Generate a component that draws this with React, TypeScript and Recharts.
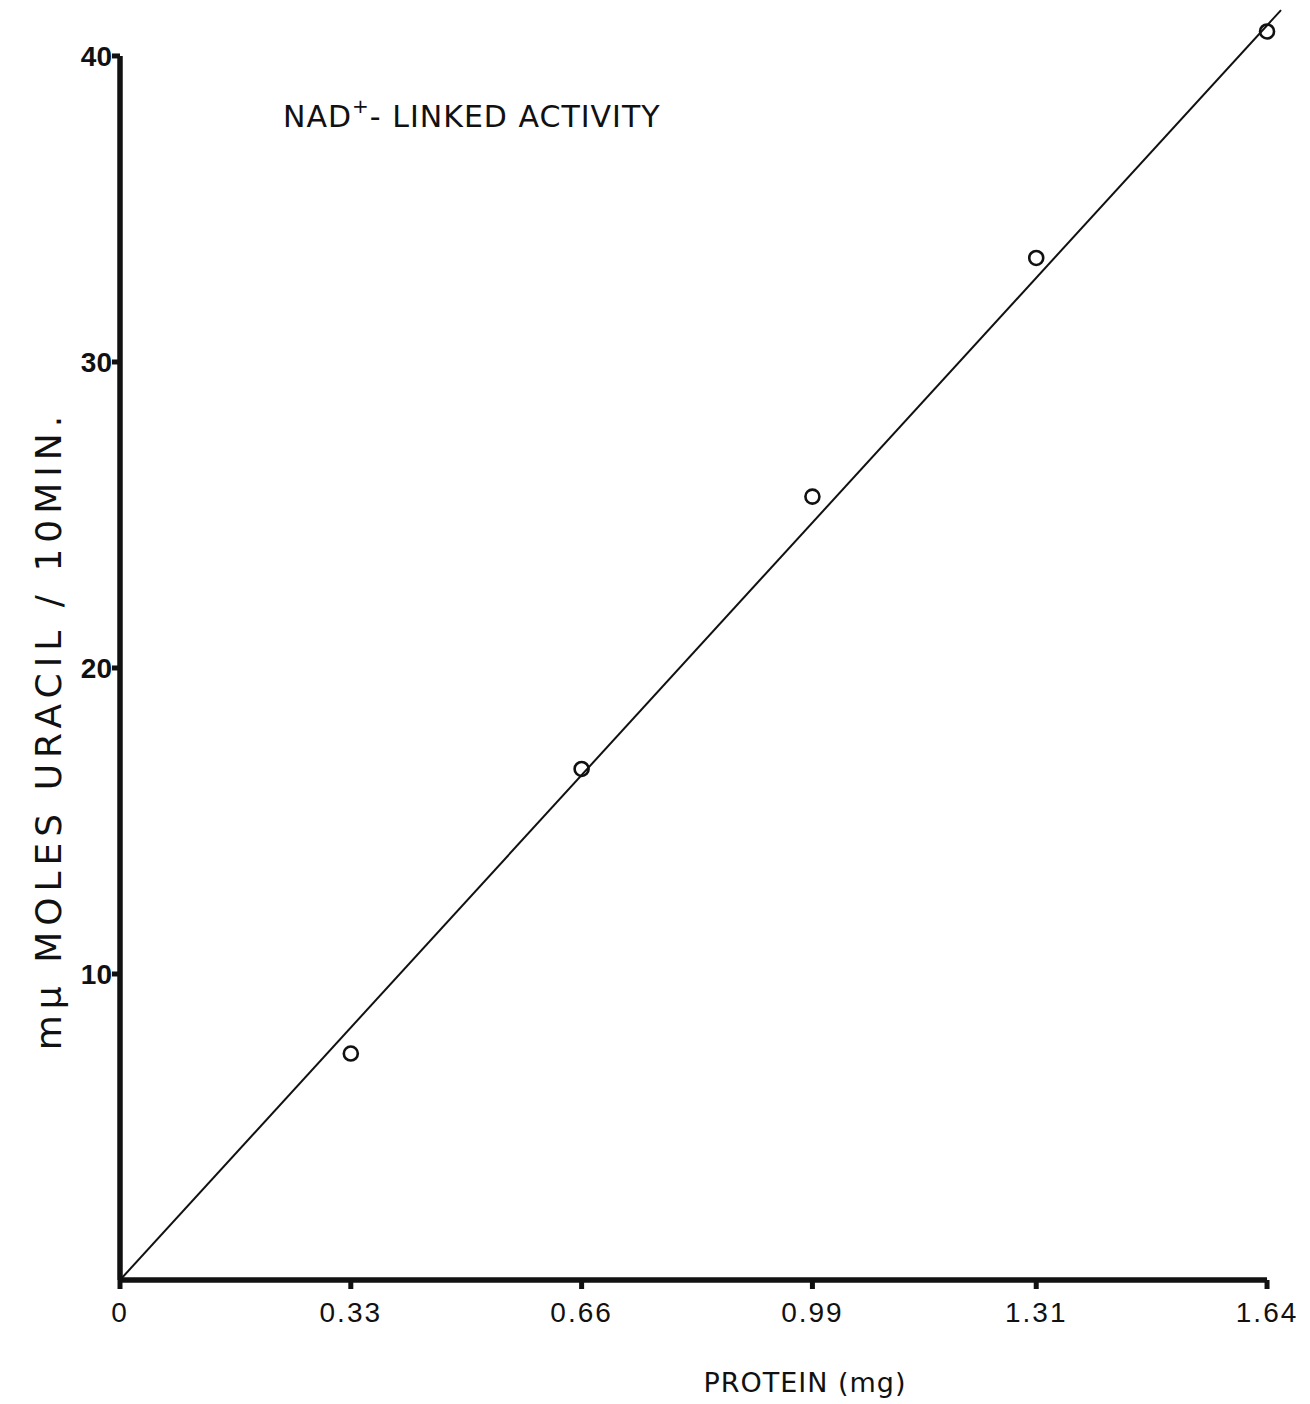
import React from "react";
import {
  Customized,
  ReferenceLine,
  Scatter,
  ScatterChart,
  XAxis,
  YAxis,
} from "recharts";

// Measured activity vs. protein added
const PROTEIN_MG = [0.33, 0.66, 0.99, 1.31, 1.64];
const URACIL_MU_MOLES = [7.4, 16.7, 25.6, 33.4, 40.8];

// Least-squares line through the origin, drawn end to end
const FIT_X = [0, 1.66];
const FIT_Y = [0, 41.5];

const X_TICKS = [0, 0.33, 0.66, 0.99, 1.31, 1.64];
const Y_TICKS = [10, 20, 30, 40];

const points = PROTEIN_MG.map((x, i) => ({ x, y: URACIL_MU_MOLES[i] }));
const fit = FIT_X.map((x, i) => ({ x, y: FIT_Y[i] }));

const INK = "#111";
const TITLE_FONT = "'DejaVu Sans', Verdana, sans-serif";
const TICK_FONT = "'Liberation Sans', Arial, sans-serif";

const OpenCircle = (props: any) => (
  <circle cx={props.cx} cy={props.cy} r={7} fill="none" stroke={INK} strokeWidth={2.6} />
);

const Nothing = () => <g />;

const Titles = () => (
  <g fill={INK} fontFamily={TITLE_FONT}>
    <text x={283} y={127} fontSize={30} letterSpacing={1}>
      NAD
      <tspan dy={-14} fontSize={20}>+</tspan>
      <tspan dy={14}>- LINKED ACTIVITY</tspan>
    </text>
    <text
      x={61}
      y={730}
      fontSize={36}
      textAnchor="middle"
      letterSpacing={6}
      transform="rotate(-90 61 730)"
    >
      mμ MOLES URACIL / 10MIN.
    </text>
    <text x={805} y={1392} fontSize={27} textAnchor="middle" letterSpacing={1}>
      PROTEIN (mg)
    </text>
  </g>
);

export default function App() {
  return (
    <div style={{ position: "absolute", left: 0, top: 0, background: "#fff" }}>
      <ScatterChart
        width={1310}
        height={1404}
        margin={{ top: 7, right: 1, bottom: 0, left: 0 }}
      >
        <XAxis
          type="number"
          dataKey="x"
          domain={[0, 1.7]}
          ticks={X_TICKS}
          interval={0}
          axisLine={false}
          tickLine={{ stroke: INK, strokeWidth: 5 }}
          tickSize={9}
          tickMargin={13}
          height={124}
          tickFormatter={(v: number) => (v === 0 ? "0" : v.toFixed(2))}
          tick={{ fill: INK, fontSize: 28, fontFamily: TICK_FONT, letterSpacing: 2 }}
        />
        <YAxis
          type="number"
          dataKey="y"
          domain={[0, 41.6]}
          ticks={Y_TICKS}
          interval={0}
          axisLine={false}
          tickLine={{ stroke: INK, strokeWidth: 5 }}
          tickSize={8}
          tickMargin={0}
          width={120}
          tick={{ fill: INK, fontSize: 28, fontWeight: 700, fontFamily: TICK_FONT }}
        />
        <ReferenceLine
          segment={[
            { x: 0, y: 0 },
            { x: 0, y: 40 },
          ]}
          stroke={INK}
          strokeWidth={5.5}
        />
        <ReferenceLine
          segment={[
            { x: 0, y: 0 },
            { x: 1.64, y: 0 },
          ]}
          stroke={INK}
          strokeWidth={5.5}
        />
        <Scatter
          data={fit}
          line={{ stroke: INK, strokeWidth: 2 }}
          shape={Nothing}
          isAnimationActive={false}
        />
        <Scatter data={points} shape={OpenCircle} isAnimationActive={false} />
        <Customized component={<Titles />} />
      </ScatterChart>
    </div>
  );
}
